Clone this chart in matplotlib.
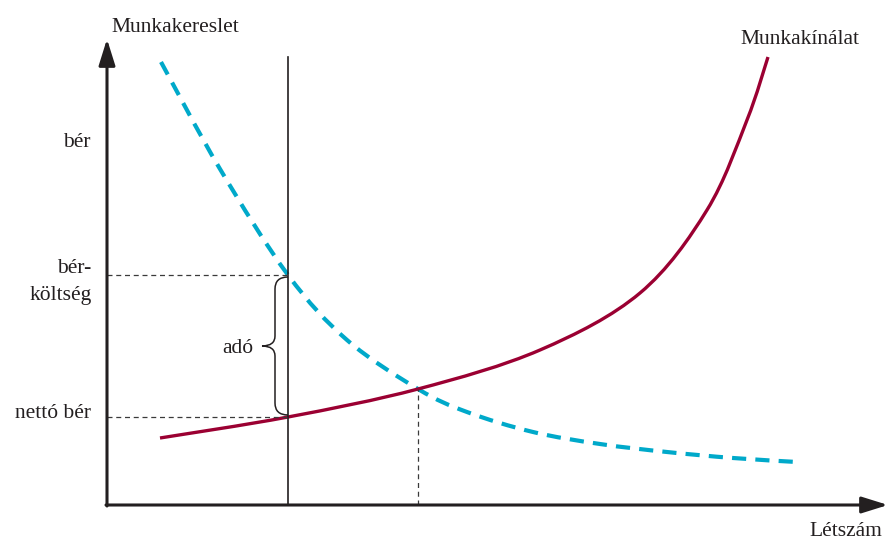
import numpy as np
import matplotlib.pyplot as plt
from matplotlib.path import Path
from matplotlib.patches import PathPatch

# coordinates: origin at the axes corner, units roughly pixels of the original
# demand curve (munkakereslet), dashed
demand_x = [54, 113, 181, 240, 311, 360, 426, 493, 560, 626, 690]
demand_y = [443, 336, 230, 165, 116, 93, 73, 61, 53, 47, 43]

# supply curve (munkakínálat), solid
supply_x = [53, 181, 311, 433, 533, 600, 640, 661]
supply_y = [67, 88, 116, 155, 212, 295, 385, 448]

# levels and quantities
tax_x = 181          # quantity with tax
eq_x = 311           # equilibrium quantity
gross_y = 230        # bérköltség
net_y = 88           # nettó bér
eq_y = 116

axis_col = '#231f20'
text_col = '#231f20'
demand_col = '#00a9ca'
supply_col = '#9b0032'

plt.rcParams['font.family'] = ['Liberation Serif', 'DejaVu Serif']


def smooth_path(xs, ys):
    # Catmull-Rom through the read points, drawn as cubic Bezier segments
    p = np.column_stack([xs, ys]).astype(float)
    ext = np.vstack([p[0], p, p[-1]])
    verts = [tuple(p[0])]
    codes = [Path.MOVETO]
    for i in range(1, len(ext) - 2):
        p0, p1, p2, p3 = ext[i - 1], ext[i], ext[i + 1], ext[i + 2]
        verts += [tuple(p1 + (p2 - p0) / 6), tuple(p2 - (p3 - p1) / 6), tuple(p2)]
        codes += [Path.CURVE4] * 3
    return Path(verts, codes)


fig = plt.figure(figsize=(8.89, 5.40), dpi=100)
ax = fig.add_axes([0, 0, 1, 1])
ax.set_xlim(-107, 782)
ax.set_ylim(-35, 505)
ax.axis('off')

# axes with arrows
arrow = dict(arrowstyle='-|>,head_length=0.8,head_width=0.25', lw=2.2,
             color=axis_col, mutation_scale=20, shrinkA=0, shrinkB=0)
ax.annotate('', xy=(0, 466), xytext=(0, -1), arrowprops=arrow)
ax.annotate('', xy=(781, 0), xytext=(-1, 0), arrowprops=arrow)

# vertical line at the taxed quantity
ax.plot([tax_x, tax_x], [0, 448], color=axis_col, lw=1.2)

# dashed guides
guide = dict(color='#3a3a3a', lw=0.9, linestyle=(0, (4, 3)))
ax.plot([0, tax_x], [gross_y, gross_y], **guide)
ax.plot([0, tax_x], [net_y, net_y], **guide)
ax.plot([eq_x, eq_x], [0, eq_y], **guide)

# curves
ax.add_patch(PathPatch(smooth_path(demand_x, demand_y), fill=False,
                       color=demand_col, lw=3, linestyle=(0, (3.4, 2.2)),
                       capstyle='butt'))
ax.add_patch(PathPatch(smooth_path(supply_x, supply_y), fill=False,
                       color=supply_col, lw=2.4, capstyle='butt'))

# brace for the tax
top, bot = gross_y - 2, net_y + 2
mid = (top + bot) / 2
stem = tax_x - 13
tip = tax_x - 26
verts = [(tax_x, top), (stem, top), (stem, top - 12),
         (stem, mid + 10), (stem, mid), (tip, mid),
         (stem, mid), (stem, mid - 10),
         (stem, bot + 12), (stem, bot), (tax_x, bot)]
codes = [Path.MOVETO, Path.CURVE3, Path.CURVE3,
         Path.LINETO, Path.CURVE3, Path.CURVE3,
         Path.CURVE3, Path.CURVE3,
         Path.LINETO, Path.CURVE3, Path.CURVE3]
ax.add_patch(PathPatch(Path(verts, codes), fill=False, lw=1.1, color=axis_col))

# labels
fs = 15.5
ax.text(68, 473, 'Munkakereslet', ha='center', va='baseline', fontsize=fs, color=text_col)
ax.text(-16, 358, 'bér', ha='right', va='baseline', fontsize=fs, color=text_col)
ax.text(-16, 232, 'bér-', ha='right', va='baseline', fontsize=fs, color=text_col)
ax.text(-15, 205, 'költség', ha='right', va='baseline', fontsize=fs, color=text_col)
ax.text(-16, 87, 'nettó bér', ha='right', va='baseline', fontsize=fs, color=text_col)
ax.text(146, 152, 'adó', ha='right', va='baseline', fontsize=fs, color=text_col)
ax.text(693, 461, 'Munkakínálat', ha='center', va='baseline', fontsize=fs, color=text_col)
ax.text(775, -31, 'Létszám', ha='right', va='baseline', fontsize=fs, color=text_col)

plt.savefig('out.png', dpi=100)
